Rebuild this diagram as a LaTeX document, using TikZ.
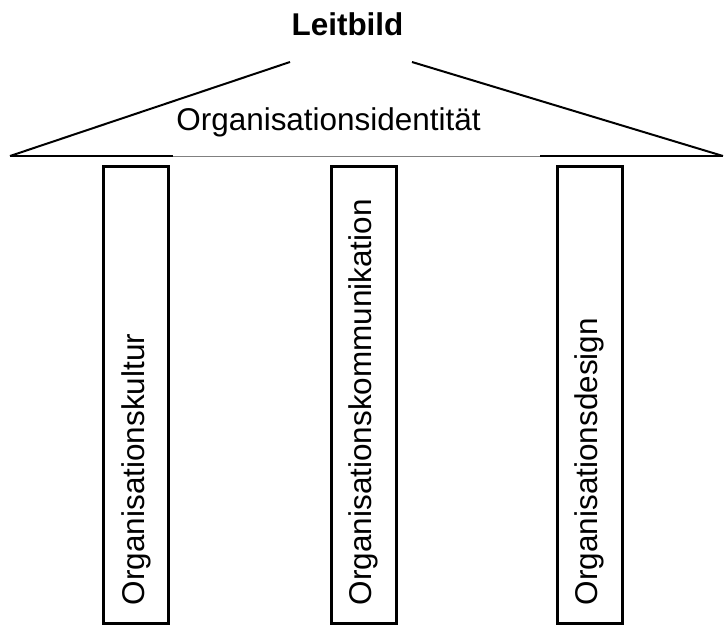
\documentclass[tikz,border=0pt]{standalone}
\usepackage{fontspec}
\setmainfont{Liberation Sans}
\usepackage{tikz}

\tikzset{
	roof/.style={line width=1.5pt},
	pillar/.style={draw, line width=2.25pt, rotate=90, minimum width=342.75pt, minimum height=48.75pt,
		inner xsep=13.9pt, inner ysep=0pt, text width=315pt, align=left}
}

\begin{document}
\begin{tikzpicture}[x=0.75pt, y=-0.75pt, every node/.style={font=\fontsize{23.6}{28}\selectfont}]
			\useasboundingbox (0,0) rectangle (725,626);
			\coordinate (eavel) at (10,156);
			\coordinate (eaver) at (723,156);
			\coordinate (ridgel) at (290,62);
			\coordinate (ridger) at (412,62);
			\coordinate (basel) at (173,156);
			\coordinate (baser) at (540,156);
			\node[anchor=base, font=\fontsize{23.6}{28}\selectfont\bfseries] at (347.5,35) (leitbild){Leitbild};
			\node[anchor=base] at (328.5,130) (identitaet){Organisationsidentität};
			\node[pillar] at (136,395) (kultur){Organisationskultur};
			\node[pillar] at (363.5,395) (kommunikation){Organisationskommunikation};
			\node[pillar] at (589.5,395) (design){Organisationsdesign};
			\draw[roof] (eavel) -- (ridgel);
			\draw[roof] (ridger) -- (eaver);
			\draw[gray, line width=0.75pt] (basel) -- (baser);
			\draw[roof] (eavel) -- (basel);
			\draw[roof] (baser) -- (eaver);
		\end{tikzpicture}
\end{document}
